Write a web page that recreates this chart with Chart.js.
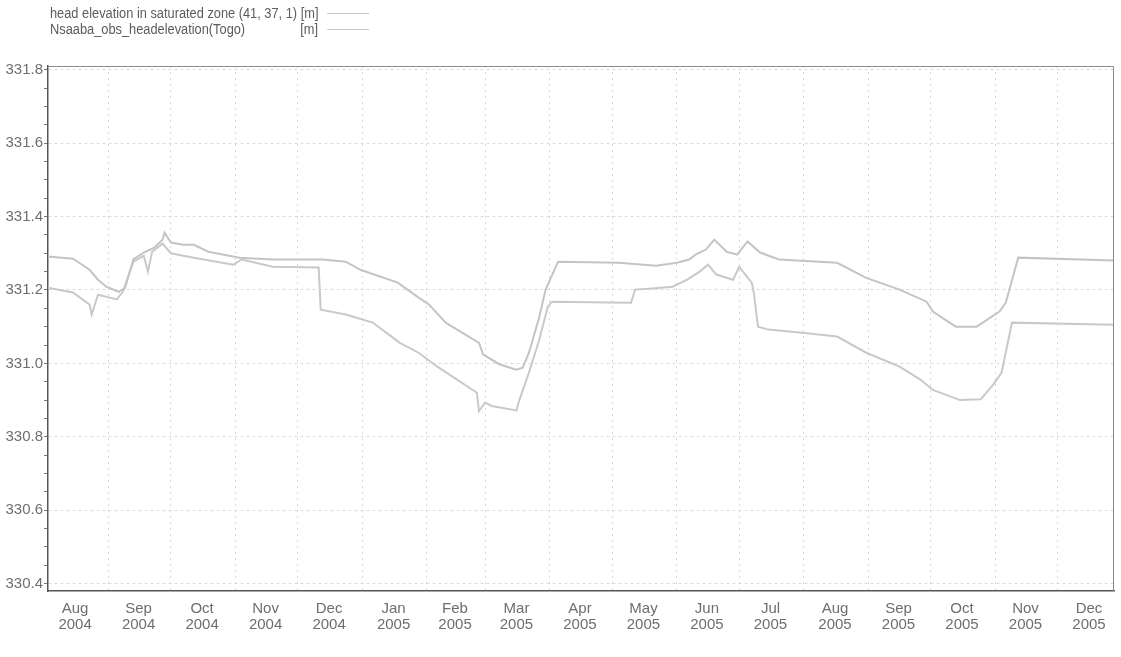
<!DOCTYPE html>
<html>
<head>
<meta charset="utf-8">
<script src="https://cdn.jsdelivr.net/npm/chart.js@4.4.1/dist/chart.umd.min.js"></script>
<style>
  html, body { margin: 0; padding: 0; background: #fff; }
  #wrap { position: relative; width: 1121px; height: 657px; }
  #legend {
    position: absolute; left: 50px; top: 5px;
    font-family: 'Liberation Sans', Arial, sans-serif;
    font-size: 14px; color: #5c5c5c; line-height: 16px;
    transform: scaleX(0.915); transform-origin: 0 0;
  }
  .row { display: flex; align-items: center; }
  .name { width: 293px; display: flex; justify-content: space-between; white-space: nowrap; }
  .swatch { width: 46px; height: 0; margin-left: 10px; }
</style>
</head>
<body>
<div id="wrap">
  <div id="legend">
    <div class="row"><span class="name"><span>head elevation in saturated zone (41, 37, 1) [m]</span></span><span class="swatch" id="sw0"></span></div>
    <div class="row"><span class="name"><span>Nsaaba_obs_headelevation(Togo)</span><span>[m]</span></span><span class="swatch" id="sw1"></span></div>
  </div>
  <canvas id="chart" width="1121" height="657"></canvas>
</div>
<script>
// データ
const seriesNames = ['head elevation in saturated zone (41, 37, 1) [m]', 'Nsaaba_obs_headelevation(Togo) [m]'];
const seriesColors = ['#c4c4c4', '#c9c9c9'];

const simDates = [
  '2004-08-03', '2004-08-15', '2004-08-23', '2004-08-27', '2004-08-31', '2004-09-06', '2004-09-09',
  '2004-09-13', '2004-09-18', '2004-09-23', '2004-09-27', '2004-09-28', '2004-10-01', '2004-10-07',
  '2004-10-12', '2004-10-19', '2004-11-03', '2004-11-19', '2004-12-13', '2004-12-24', '2004-12-31',
  '2005-01-18', '2005-01-28', '2005-02-02', '2005-02-10', '2005-02-26', '2005-02-28', '2005-03-08',
  '2005-03-16', '2005-03-19', '2005-03-22', '2005-03-27', '2005-03-30', '2005-04-05', '2005-05-04',
  '2005-05-22', '2005-06-01', '2005-06-07', '2005-06-10', '2005-06-15', '2005-06-19', '2005-06-25',
  '2005-06-30', '2005-07-05', '2005-07-11', '2005-07-20', '2005-08-17', '2005-08-31', '2005-09-16',
  '2005-09-29', '2005-10-02', '2005-10-13', '2005-10-23', '2005-11-03', '2005-11-06', '2005-11-12',
  '2005-12-28'
];
const simValues = [
  331.291, 331.285, 331.255, 331.228, 331.209, 331.195, 331.206,
  331.283, 331.302, 331.315, 331.337, 331.356, 331.329, 331.323,
  331.323, 331.304, 331.288, 331.283, 331.283, 331.277, 331.255,
  331.220, 331.179, 331.160, 331.111, 331.056, 331.024, 330.997,
  330.983, 330.988, 331.029, 331.127, 331.201, 331.277, 331.274,
  331.266, 331.274, 331.283, 331.296, 331.310, 331.337, 331.304,
  331.296, 331.332, 331.302, 331.283, 331.274, 331.233, 331.201,
  331.168, 331.141, 331.100, 331.100, 331.141, 331.165, 331.288,
  331.280
];

const obsDates = [
  '2004-08-03', '2004-08-15', '2004-08-23', '2004-08-24', '2004-08-27', '2004-09-05', '2004-09-08',
  '2004-09-13', '2004-09-18', '2004-09-20', '2004-09-22', '2004-09-27', '2004-10-01', '2004-10-12',
  '2004-10-31', '2004-11-04', '2004-11-19', '2004-12-11', '2004-12-12', '2004-12-24', '2005-01-06',
  '2005-01-15', '2005-01-19', '2005-01-28', '2005-02-06', '2005-02-25', '2005-02-26', '2005-03-01',
  '2005-03-04', '2005-03-16', '2005-03-17', '2005-03-22', '2005-03-27', '2005-03-31', '2005-04-02',
  '2005-05-10', '2005-05-12', '2005-05-20', '2005-05-30', '2005-06-06', '2005-06-12', '2005-06-16',
  '2005-06-20', '2005-06-28', '2005-07-01', '2005-07-07', '2005-07-08', '2005-07-10', '2005-07-15',
  '2005-07-30', '2005-08-17', '2005-08-31', '2005-09-16', '2005-09-26', '2005-10-02', '2005-10-15',
  '2005-10-25', '2005-10-31', '2005-11-04', '2005-11-09', '2005-12-28'
];
const obsValues = [
  331.206, 331.193, 331.160, 331.133, 331.187, 331.174, 331.195,
  331.277, 331.293, 331.250, 331.304, 331.326, 331.300, 331.288,
  331.269, 331.283, 331.263, 331.261, 331.146, 331.133, 331.111,
  331.073, 331.056, 331.029, 330.991, 330.920, 330.870, 330.893,
  330.884, 330.872, 330.893, 330.975, 331.065, 331.154, 331.168,
  331.165, 331.201, 331.204, 331.209, 331.228, 331.250, 331.269,
  331.242, 331.228, 331.263, 331.220, 331.193, 331.100, 331.092,
  331.084, 331.073, 331.029, 330.991, 330.956, 330.928, 330.900,
  330.902, 330.942, 330.975, 331.111, 331.105
];

const monthNames = ['Jan', 'Feb', 'Mar', 'Apr', 'May', 'Jun', 'Jul', 'Aug', 'Sep', 'Oct', 'Nov', 'Dec'];
const xStart = '2004-08-03';
const xEnd = '2005-12-28';
const yMin = 330.38;
const yMax = 331.81;
const yTickStart = 330.4;
const yTickStep = 0.05;
const yTickCount = 29;

// 日付 → 2004-08-01 からの日数
const BASE = Date.UTC(2004, 7, 1);
function dayOf(s) {
  const [y, m, d] = s.split('-').map(Number);
  return (Date.UTC(y, m - 1, d) - BASE) / 86400000;
}
function toPoints(dates, values) {
  return dates.map((d, i) => ({ x: dayOf(d), y: values[i] }));
}

// 月初（グリッド）と月中（ラベル）
const monthStarts = new Set();
const monthLabels = new Map();
for (let y = 2004, m = 7; y < 2006; ) {
  const start = (Date.UTC(y, m, 1) - BASE) / 86400000;
  const len = new Date(Date.UTC(y, m + 1, 0)).getUTCDate();
  monthStarts.add(start);
  monthLabels.set(start + (len - 1) / 2, [monthNames[m], String(y)]);
  m++;
  if (m > 11) { m = 0; y++; }
}

document.getElementById('sw0').style.borderTop = '1px solid ' + seriesColors[0];
document.getElementById('sw1').style.borderTop = '1px solid ' + seriesColors[1];

const FONT = "'Liberation Sans', Arial, sans-serif";
const GRID = '#dadada';

// 上と右の枠線
const frame = {
  id: 'frame',
  afterDraw(chart) {
    const { ctx, chartArea: a } = chart;
    ctx.save();
    ctx.strokeStyle = '#8a8a8a';
    ctx.lineWidth = 1;
    ctx.beginPath();
    ctx.moveTo(a.left, a.top + 0.5);
    ctx.lineTo(a.right - 0.5, a.top + 0.5);
    ctx.lineTo(a.right - 0.5, a.bottom);
    ctx.stroke();
    ctx.restore();
  }
};

new Chart(document.getElementById('chart'), {
  type: 'line',
  data: {
    datasets: [
      {
        label: seriesNames[0],
        data: toPoints(simDates, simValues),
        borderColor: seriesColors[0],
        borderWidth: 2,
        pointRadius: 0,
        tension: 0,
        fill: false,
      },
      {
        label: seriesNames[1],
        data: toPoints(obsDates, obsValues),
        borderColor: seriesColors[1],
        borderWidth: 2,
        pointRadius: 0,
        tension: 0,
        fill: false,
      },
    ],
  },
  options: {
    responsive: false,
    animation: false,
    layout: { padding: { top: 66, right: 7, left: 0, bottom: 0 } },
    plugins: { legend: { display: false }, tooltip: { enabled: false } },
    scales: {
      x: {
        type: 'linear',
        min: dayOf(xStart),
        max: dayOf(xEnd),
        afterBuildTicks(scale) {
          const ticks = [];
          monthStarts.forEach(v => { if (v >= scale.min && v <= scale.max) ticks.push({ value: v }); });
          monthLabels.forEach((lab, v) => { if (v >= scale.min && v <= scale.max) ticks.push({ value: v }); });
          ticks.sort((p, q) => p.value - q.value);
          scale.ticks = ticks;
        },
        afterFit(scale) { scale.height = 66; },
        ticks: {
          autoSkip: false,
          maxRotation: 0,
          padding: 6,
          color: '#6e6e6e',
          font: { family: FONT, size: 15, lineHeight: 1.07 },
          callback: v => monthLabels.get(v) || '',
        },
        grid: {
          color: c => (c.tick && monthStarts.has(c.tick.value)) ? GRID : 'rgba(0,0,0,0)',
          tickColor: 'rgba(0,0,0,0)',
          tickLength: 4,
          lineWidth: 1,
        },
        border: { color: '#555', width: 1.5, dash: [2, 4] },
      },
      y: {
        type: 'linear',
        min: yMin,
        max: yMax,
        afterBuildTicks(scale) {
          const ticks = [];
          for (let i = 0; i < yTickCount; i++) ticks.push({ value: +(yTickStart + i * yTickStep).toFixed(2) });
          scale.ticks = ticks;
        },
        afterFit(scale) { scale.width = 48; },
        ticks: {
          autoSkip: false,
          padding: 1,
          color: '#6e6e6e',
          font: { family: FONT, size: 15 },
          callback: (v, i) => (i % 4 === 0 ? v.toFixed(1) : ''),
        },
        grid: {
          color: c => (c.index % 4 === 0 ? GRID : 'rgba(0,0,0,0)'),
          tickColor: '#777',
          tickLength: 4,
          lineWidth: 1,
        },
        border: { color: '#555', width: 1.5, dash: [3, 3] },
      },
    },
  },
  plugins: [frame],
});
</script>
</body>
</html>
